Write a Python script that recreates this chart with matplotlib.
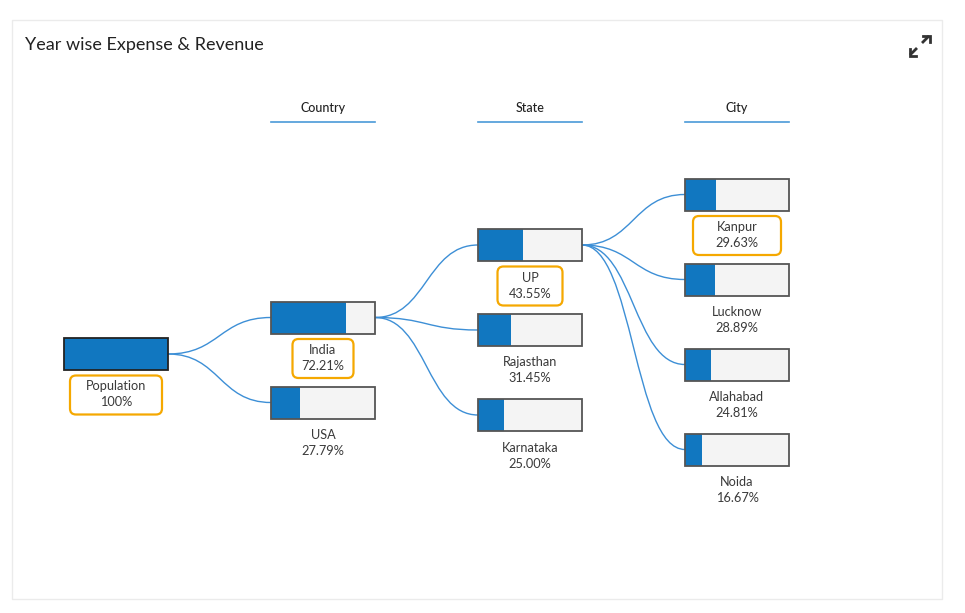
import matplotlib.pyplot as plt
from matplotlib.patches import Rectangle, FancyBboxPatch
from matplotlib.path import Path
from matplotlib.patches import PathPatch

plt.rcParams['font.family'] = ['Lato', 'DejaVu Sans']

# Data: one list per tree level
columns = ["Country", "State", "City"]
root_name = "Population"
root_value = 100
country_names = ["India", "USA"]
country_values = [72.21, 27.79]
state_names = ["UP", "Rajasthan", "Karnataka"]
state_values = [43.55, 31.45, 25.00]
city_names = ["Kanpur", "Lucknow", "Allahabad", "Noida"]
city_values = [29.63, 28.89, 24.81, 16.67]
# which parent each node hangs from (index in previous level)
country_parent = [0, 0]
state_parent = [0, 0, 0]
city_parent = [0, 0, 0, 0]
# expanded path (highlighted labels)
highlighted = ["Population", "India", "UP", "Kanpur"]

# Layout (pixels)
W, H = 965, 613
node_w, node_h = 104, 32
col_x = [64, 271, 478, 685]
col_top = [354, 317.5, 245, 194.5]   # centre y of first node per column
row_gap = 85
box_w = {"Population": 92, "India": 61, "UP": 65, "Kanpur": 88}

blue = "#1177C0"
empty = "#F4F4F4"
edge = "#555555"
link_col = "#3D8FD6"
text_col = "#3A3A3A"
box_col = "#F5A800"

fig = plt.figure(figsize=(W / 100, H / 100), dpi=100)
ax = fig.add_axes([0, 0, 1, 1])
ax.set_xlim(0, W)
ax.set_ylim(H, 0)
ax.axis("off")

# card
ax.add_patch(Rectangle((12, 20), 930, 579, facecolor="white",
                       edgecolor="#EBEBEB", linewidth=1))
ax.text(25, 45, "Year wise Expense & Revenue", fontsize=13,
        color="#222222", va="center", ha="left")

# expand icon
cx, cy = 919.5, 45.5
for s in (1, -1):
    ax.plot([cx + s * 2.5, cx + s * 9.5], [cy - s * 2.5, cy - s * 9.5],
            color="#333333", lw=2, solid_capstyle="butt")
    ax.plot([cx + s * 3.5, cx + s * 10, cx + s * 10],
            [cy - s * 10, cy - s * 10, cy - s * 3.5],
            color="#333333", lw=2, solid_joinstyle="miter")

# column headers
for i, name in enumerate(columns):
    cx = col_x[i + 1] + node_w / 2
    ax.text(cx, 108, name, fontsize=9, color="#222222",
            ha="center", va="center", fontweight="medium")
    ax.plot([col_x[i + 1], col_x[i + 1] + node_w], [122, 122],
            color="#4A9AD8", lw=1.2)

levels = [
    ([root_name], [root_value], None),
    (country_names, country_values, country_parent),
    (state_names, state_values, state_parent),
    (city_names, city_values, city_parent),
]


def centre_y(level, idx):
    return col_top[level] + idx * row_gap


# links
for lv in range(1, len(levels)):
    names, vals, parents = levels[lv]
    for i, p in enumerate(parents):
        x1 = col_x[lv - 1] + node_w
        y1 = centre_y(lv - 1, p)
        x2 = col_x[lv]
        y2 = centre_y(lv, i)
        xm = (x1 + x2) / 2
        path = Path([(x1, y1), (xm, y1), (xm, y2), (x2, y2)],
                    [Path.MOVETO, Path.CURVE4, Path.CURVE4, Path.CURVE4])
        ax.add_patch(PathPatch(path, facecolor="none", edgecolor=link_col,
                               lw=1, zorder=1))

# nodes
for lv, (names, vals, _) in enumerate(levels):
    for i, (name, v) in enumerate(zip(names, vals)):
        x = col_x[lv]
        yc = centre_y(lv, i)
        y = yc - node_h / 2
        ax.add_patch(Rectangle((x, y), node_w, node_h, facecolor=empty,
                               edgecolor="none", zorder=2))
        ax.add_patch(Rectangle((x, y), node_w * v / 100, node_h,
                               facecolor=blue, edgecolor="none", zorder=3))
        ax.add_patch(Rectangle((x, y), node_w, node_h, facecolor="none",
                               edgecolor=edge if v < 100 else "#222222",
                               lw=1.3, zorder=4))
        pct = f"{v:.0f}%" if v == 100 else f"{v:.2f}%"
        tx = x + node_w / 2
        ty1 = y + node_h + 16.5
        ty2 = ty1 + 16
        if name in highlighted:
            tw = box_w[name]
            ax.add_patch(FancyBboxPatch((tx - tw / 2 + 5, ty1 - 6), tw - 10, 29,
                                        boxstyle="round,pad=5,rounding_size=6",
                                        facecolor="white", edgecolor=box_col,
                                        lw=1.6, zorder=2))
        ax.text(tx, ty1, name, fontsize=9.2, color=text_col,
                ha="center", va="center", zorder=5)
        ax.text(tx, ty2, pct, fontsize=9.2, color=text_col,
                ha="center", va="center", zorder=5)

fig.savefig("out.png", dpi=100)
